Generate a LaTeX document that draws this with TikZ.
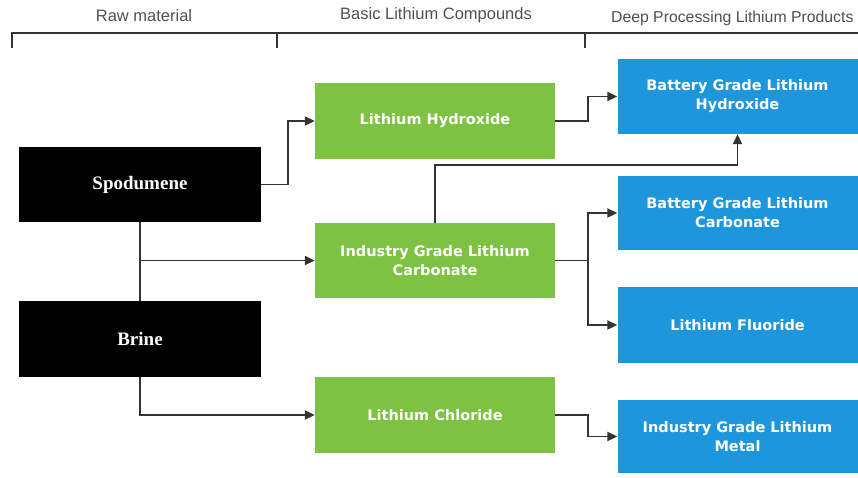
\documentclass[tikz,border=0pt]{standalone}
\usepackage{fontspec}
\usepackage{xcolor}
\usepackage{tikz}
\usetikzlibrary{arrows.meta}
\newfontfamily\boxfont{DejaVu Sans}
\newfontfamily\rawfont{Liberation Serif}
\newfontfamily\headfont{Liberation Sans}
\definecolor{leafgreen}{HTML}{7DC243}
\definecolor{oceanblue}{HTML}{1E96DC}
\definecolor{wiregray}{HTML}{333333}
\definecolor{headgray}{HTML}{505050}

\begin{document}
\begin{tikzpicture}[x=1pt, y=-1pt,
  rawbox/.style={fill=black, text=white, minimum width=242pt, minimum height=75pt,
    font=\rawfont\bfseries\fontsize{19}{22}\selectfont},
  basebox/.style={fill=leafgreen, text=white, minimum width=240pt, minimum height=76pt,
    align=center, font=\boxfont\bfseries\fontsize{14.5}{19}\selectfont},
  deepbox/.style={fill=oceanblue, text=white, minimum width=240pt, minimum height=75pt,
    align=center, font=\boxfont\bfseries\fontsize{14.5}{19}\selectfont},
  header/.style={text=headgray, font=\headfont\fontsize{16.5}{18}\selectfont},
  conn/.style={wiregray, line width=1.8pt, -{Triangle[length=10pt, width=9pt]}}]
\useasboundingbox (0,0) rectangle (858,477);

% column headers
\node[header] (hraw) at (144,16) {Raw material};
\node[header] (hbasic) at (436,15) {Basic Lithium Compounds};
\node[header, anchor=east, font=\headfont\fontsize{15.8}{18}\selectfont] (hdeep) at (857,18) {Deep Processing Lithium Products};
\draw[wiregray, line width=1.5pt] (12,48) -- (12,33) -- (858,33);
\draw[wiregray, line width=1.5pt] (277,33) -- (277,48);
\draw[wiregray, line width=1.5pt] (585,33) -- (585,48);

% raw material
\node[rawbox] (spod) at (140,184.5) {Spodumene};
\node[rawbox, minimum height=76pt] (brine) at (140,339) {Brine};

% basic compounds
\node[basebox] (lioh) at (435,121) {Lithium Hydroxide};
\node[basebox, minimum height=75pt] (licarb) at (435,260.5) {Industry Grade Lithium\\Carbonate};
\node[basebox] (licl) at (435,415) {Lithium Chloride};

% deep processing products
\node[deepbox] (bhyd) at (737.5,96.5) {Battery Grade Lithium\\Hydroxide};
\node[deepbox, minimum height=74pt] (bcarb) at (737.5,213) {Battery Grade Lithium\\Carbonate};
\node[deepbox, minimum height=76pt] (lif) at (737.5,325) {Lithium Fluoride};
\node[deepbox, minimum height=73pt] (metal) at (737.5,436.5) {Industry Grade Lithium\\Metal};

% flows
\draw[conn] (spod.east) -- ++(27,0) |- (lioh.west);
\draw[wiregray, line width=1.8pt] (spod.south) -- (brine.north);
\draw[conn] (spod.south |- licarb.west) -- (licarb.west);
\draw[conn] (brine.south) |- (licl.west);
\draw[conn] (lioh.east) -- ++(33,0) |- (bhyd.west);
\draw[conn] (licarb.north) -- ++(0,-58) -| (bhyd.south);
\draw[conn] (licarb.east) -- ++(33,0) |- (bcarb.west);
\draw[conn] (licarb.east) -- ++(33,0) |- (lif.west);
\draw[conn] (licl.east) -- ++(33,0) |- (metal.west);
\end{tikzpicture}
\end{document}
